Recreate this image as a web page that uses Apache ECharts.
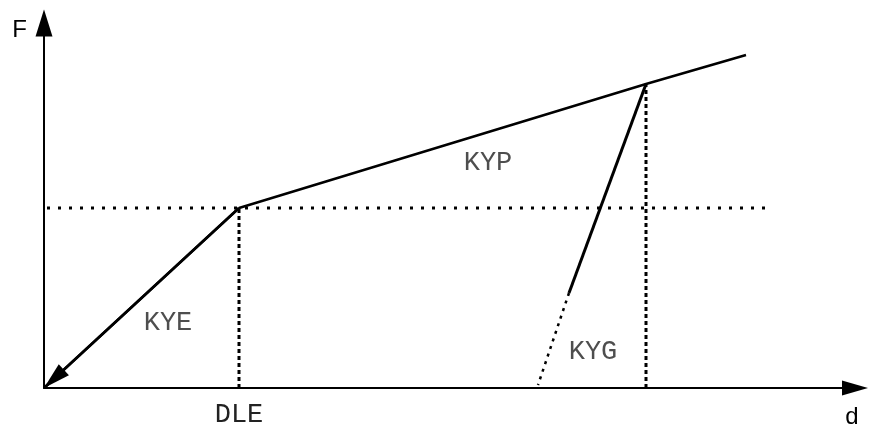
<!DOCTYPE html>
<html>
<head>
<meta charset="utf-8">
<script src="https://cdn.jsdelivr.net/npm/echarts@6/dist/echarts.min.js"></script>
<style>
  html, body { margin: 0; padding: 0; background: #fff; }
  #main { width: 869px; height: 425px; }
</style>
</head>
<body>
<div id="main"></div>
<script>
// 力-位移骨架曲线 (单位: 图上刻度)
const dleX = 195;
const yieldF = 180;
const elasticPath = [[195, 180], [0, 0]];
const plasticPath = [[195, 180], [602, 304], [702, 333]];
const unloadSolid = [[602, 304], [525, 95]];
const unloadDotted = [[525, 95], [494, 3]];
const yieldGuide = [[3, 180], [728, 180]];
const dleGuide = [[195, 0], [195, 180]];
const peakGuide = [[602, 0], [602, 304]];
const labelNames = ['KYP', 'KYE', 'KYG'];
const labelPos = [[444, 225], [124, 65], [549, 36]];
const xTickValues = [dleX];
const xTickText = ['DLE'];

window.onload = function () {
  let chart = echarts.init(document.getElementById('main'));

  const monoFont = { fontFamily: 'Liberation Mono', fontSize: 27, color: '#222' };

  function seg(data, width, dash) {
    return {
      type: 'line',
      data: data,
      symbol: 'none',
      silent: true,
      lineStyle: { color: '#000', width: width, type: dash || 'solid', cap: 'butt' }
    };
  }

  // 弹性段 + 箭头
  let elastic = seg(elasticPath, 2.5);
  elastic.markLine = {
    silent: true,
    animation: false,
    symbol: ['none', 'triangle'],
    symbolSize: [15, 27],
    symbolOffset: [[0, 0], [0, 13.5]],
    label: { show: false },
    lineStyle: { color: '#000', width: 2.5, type: 'solid' },
    emphasis: { disabled: true },
    data: [[{ coord: elasticPath[0] }, { coord: elasticPath[1] }]]
  };

  let option = {
    animation: false,
    grid: { left: 44, right: 14, top: 23, bottom: 37, outerBoundsMode: 'none' },
    xAxis: {
      type: 'value',
      min: 0,
      max: 811,
      name: 'd',
      nameLocation: 'end',
      nameGap: -3,
      nameTextStyle: { fontFamily: 'Liberation Sans', fontSize: 24, color: '#000', align: 'center', verticalAlign: 'top', padding: [17, 0, 0, 0] },
      splitLine: { show: false },
      axisTick: { show: false },
      axisLine: { lineStyle: { color: '#000', width: 2 }, symbol: ['none', 'triangle'], symbolSize: [15, 26] },
      axisLabel: {
        customValues: xTickValues,
        formatter: function (v) { return xTickText[xTickValues.indexOf(v)] || ''; },
        margin: 13,
        fontFamily: monoFont.fontFamily,
        fontSize: monoFont.fontSize,
        color: monoFont.color
      }
    },
    yAxis: {
      type: 'value',
      min: 0,
      max: 365,
      name: 'F',
      nameLocation: 'end',
      nameGap: -7,
      nameTextStyle: { fontFamily: 'Liberation Sans', fontSize: 24, color: '#000', align: 'right', verticalAlign: 'middle', padding: [0, 17, 0, 0] },
      splitLine: { show: false },
      axisTick: { show: false },
      axisLabel: { show: false },
      axisLine: { lineStyle: { color: '#000', width: 2 }, symbol: ['none', 'triangle'], symbolSize: [17, 27] }
    },
    series: [
      seg(plasticPath, 2.5),
      seg(unloadSolid, 3),
      seg(unloadDotted, 2.5, [3, 5]),
      seg(yieldGuide, 3, [3, 8]),
      seg(dleGuide, 3, [4, 3]),
      seg(peakGuide, 3, [4, 3]),
      elastic,
      {
        type: 'scatter',
        symbolSize: 0,
        silent: true,
        label: {
          show: true,
          position: 'inside',
          formatter: function (p) { return p.name; },
          fontFamily: monoFont.fontFamily,
          fontSize: monoFont.fontSize,
          color: monoFont.color
        },
        data: labelNames.map(function (n, i) { return { name: n, value: labelPos[i] }; })
      }
    ]
  };

  chart.setOption(option);
};
</script>
</body>
</html>
